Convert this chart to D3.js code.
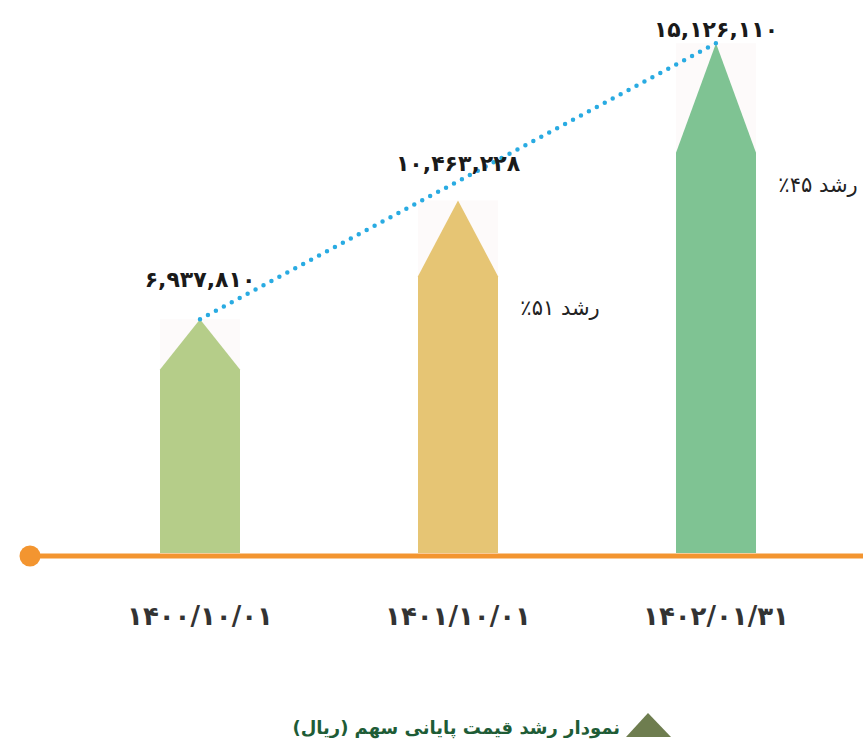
<!doctype html>
<html lang="fa">
<head>
    <meta charset="UTF-8">
    <title>نمودار رشد قیمت پایانی سهم</title>
    <script src="https://cdn.jsdelivr.net/npm/d3@7"></script>
    <style>
        body{ margin:0; background:#fff; font-family:"DejaVu Sans", sans-serif; }
        svg{ display:block; }
        .axisLine{ stroke:#f39530; stroke-width:5px; }
        .trend{ fill:none; stroke:#29abe2; stroke-width:4.5px; stroke-linecap:round; stroke-dasharray:0 9; }
        .backBox{ fill:#fdfafa; }
        .valueLabel{ font-size:22px; fill:#1a1a1a; font-weight:bold; }
        .growthLabel{ font-size:21px; fill:#222; }
        .dateLabel{ font-size:26px; fill:#333; font-weight:bold; }
        .legendText{ font-size:18px; fill:#1e5c36; font-weight:bold; }
    </style>
</head>
<body>
<svg width="863" height="745"></svg>
<script>
    // data
    const dates  = ["۱۴۰۰/۱۰/۰۱", "۱۴۰۱/۱۰/۰۱", "۱۴۰۲/۰۱/۳۱"];
    const prices = [6937810, 10463228, 15126110];
    const priceLabels = ["۶,۹۳۷,۸۱۰", "۱۰,۴۶۳,۲۲۸", "۱۵,۱۲۶,۱۱۰"];
    const growth = [null, "رشد ۵۱٪", "رشد ۴۵٪"];
    const colors = ["#b5cd89", "#e6c574", "#7fc393"];
    const legendTitle = "نمودار رشد قیمت پایانی سهم (ریال)";

    const svg = d3.select("svg");
    const baseY = 553;
    const barW = 80;

    let x = d3.scalePoint().domain(dates).range([200, 716]);
    let y = d3.scaleLinear().domain([0, 16000000]).range([baseY, baseY - 16 * 33.7]);

    const rows = dates.map((d, i) => ({date: d, value: prices[i], label: priceLabels[i], growth: growth[i], color: colors[i]}));

    // faint box behind each bar
    svg.selectAll(".backBox").data(rows).enter().append("rect")
        .attr("class", "backBox")
        .attr("x", d => x(d.date) - barW / 2)
        .attr("y", d => y(d.value))
        .attr("width", barW)
        .attr("height", d => baseY - y(d.value));

    // arrow shaped bars
    svg.selectAll(".bar").data(rows).enter().append("path")
        .attr("class", "bar")
        .attr("fill", d => d.color)
        .attr("d", d => {
            let cx = x(d.date), top = y(d.value), sh = y(d.value * 0.785);
            return `M${cx - barW / 2},${baseY} L${cx - barW / 2},${sh} L${cx},${top} L${cx + barW / 2},${sh} L${cx + barW / 2},${baseY} Z`;
        });

    // baseline + dot
    svg.append("line").attr("class", "axisLine")
        .attr("x1", 30).attr("x2", 863).attr("y1", baseY + 3).attr("y2", baseY + 3);
    svg.append("circle").attr("cx", 30).attr("cy", baseY + 3).attr("r", 10.5).attr("fill", "#f39530");

    // dotted trend from first to last point
    let ends = [rows[0], rows[rows.length - 1]];
    svg.append("path").attr("class", "trend")
        .attr("d", d3.line().x(d => x(d.date)).y(d => y(d.value))(ends));

    // value labels
    const labelDy = [-32, -29, -6];
    svg.selectAll(".valueLabel").data(rows).enter().append("text")
        .attr("class", "valueLabel")
        .attr("x", d => x(d.date))
        .attr("y", (d, i) => y(d.value) + labelDy[i])
        .attr("text-anchor", "middle")
        .text(d => d.label);

    // growth labels
    svg.selectAll(".growthLabel").data(rows.filter(d => d.growth)).enter().append("text")
        .attr("class", "growthLabel")
        .attr("x", d => x(d.date) + barW / 2 + 62)
        .attr("y", d => y(d.value * 0.785) + 39)
        .attr("text-anchor", "middle")
        .attr("direction", "rtl")
        .text(d => d.growth);

    // date labels
    svg.selectAll(".dateLabel").data(rows).enter().append("text")
        .attr("class", "dateLabel")
        .attr("x", d => x(d.date))
        .attr("y", 625)
        .attr("text-anchor", "middle")
        .text(d => d.date);

    // legend
    svg.append("path").attr("fill", "#6e7d4f")
        .attr("d", "M626,737 L648,713 L671,737 Z");
    svg.append("text").attr("class", "legendText")
        .attr("x", 620).attr("y", 734)
        .attr("text-anchor", "start")
        .attr("direction", "rtl")
        .text(legendTitle);
</script>
</body>
</html>
